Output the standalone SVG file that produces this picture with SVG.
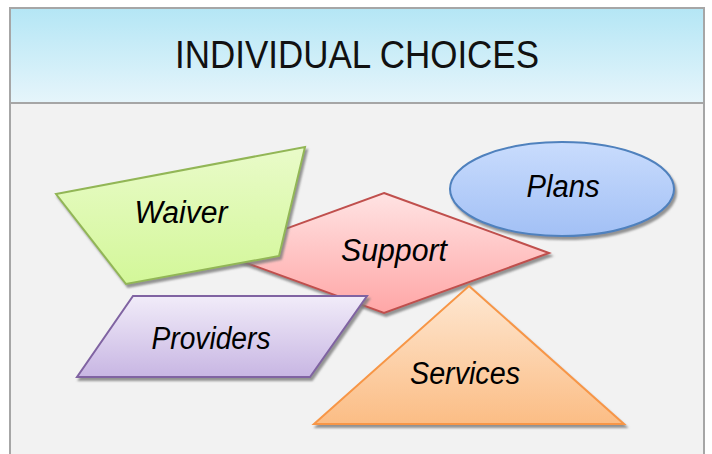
<svg xmlns="http://www.w3.org/2000/svg" width="712" height="454" viewBox="0 0 712 454">
<defs>
<linearGradient id="gHead" x1="0" y1="0" x2="0" y2="1"><stop offset="0" stop-color="#b4e6f5"/><stop offset="1" stop-color="#e6f5fb"/></linearGradient>
<linearGradient id="gGreen" x1="0" y1="0" x2="0" y2="1"><stop offset="0" stop-color="#e9fbc9"/><stop offset="1" stop-color="#d3f799"/></linearGradient>
<linearGradient id="gRed" x1="0" y1="0" x2="0" y2="1"><stop offset="0" stop-color="#ffe3e3"/><stop offset="1" stop-color="#ffa6a6"/></linearGradient>
<linearGradient id="gBlue" x1="0" y1="0" x2="0" y2="1"><stop offset="0" stop-color="#c9dcfd"/><stop offset="1" stop-color="#a2c0f5"/></linearGradient>
<linearGradient id="gPurple" x1="0" y1="0" x2="0" y2="1"><stop offset="0" stop-color="#f1ecf9"/><stop offset="1" stop-color="#c8b6e3"/></linearGradient>
<linearGradient id="gOrange" x1="0" y1="0" x2="0" y2="1"><stop offset="0" stop-color="#fee8d3"/><stop offset="1" stop-color="#fbbd85"/></linearGradient>
<filter id="sh" x="-10%" y="-10%" width="130%" height="130%"><feDropShadow dx="2" dy="3" stdDeviation="1" flood-color="#7a7a7a" flood-opacity="0.8"/></filter>
</defs>
<style>
.lbl{font-family:"Liberation Sans",Arial,sans-serif;font-style:italic;font-size:31px;fill:#000;text-anchor:middle}
.title{font-family:"Liberation Sans",Arial,sans-serif;font-size:39px;fill:#111;text-anchor:middle}
.shape{stroke-width:2;filter:url(#sh)}
</style>
<rect x="0" y="0" width="712" height="454" fill="#ffffff"/>
<rect x="10" y="8" width="694" height="460" fill="#f2f2f2" stroke="#a6a6a6" stroke-width="2"/>
<rect x="10" y="8" width="694" height="95" fill="url(#gHead)" stroke="#a6a6a6" stroke-width="2"/>
<text class="title" x="357" y="68" textLength="364" lengthAdjust="spacingAndGlyphs">INDIVIDUAL CHOICES</text>
<g id="connectors"></g>
<g id="support"><polygon class="shape" points="384,193 549,253 384,313 219,253" fill="url(#gRed)" stroke="#c0504d"/><text class="lbl" x="394" y="261" textLength="106" lengthAdjust="spacingAndGlyphs">Support</text></g>
<g id="waiver"><polygon class="shape" points="56,194 305,147 279,256 126,284" fill="url(#gGreen)" stroke="#92b656"/><text class="lbl" x="181" y="223" textLength="93" lengthAdjust="spacingAndGlyphs">Waiver</text></g>
<g id="providers"><polygon class="shape" points="133,296 367,296 310,377 77,377" fill="url(#gPurple)" stroke="#8064a2"/><text class="lbl" x="211" y="349" textLength="119" lengthAdjust="spacingAndGlyphs">Providers</text></g>
<g id="services"><polygon class="shape" points="469,286 624,424 314,424" fill="url(#gOrange)" stroke="#f79646"/><text class="lbl" x="465" y="384" textLength="110" lengthAdjust="spacingAndGlyphs">Services</text></g>
<g id="plans"><ellipse class="shape" cx="562" cy="189" rx="112" ry="47" fill="url(#gBlue)" stroke="#4f81bd"/><text class="lbl" x="563" y="197" textLength="73" lengthAdjust="spacingAndGlyphs">Plans</text></g>
</svg>
